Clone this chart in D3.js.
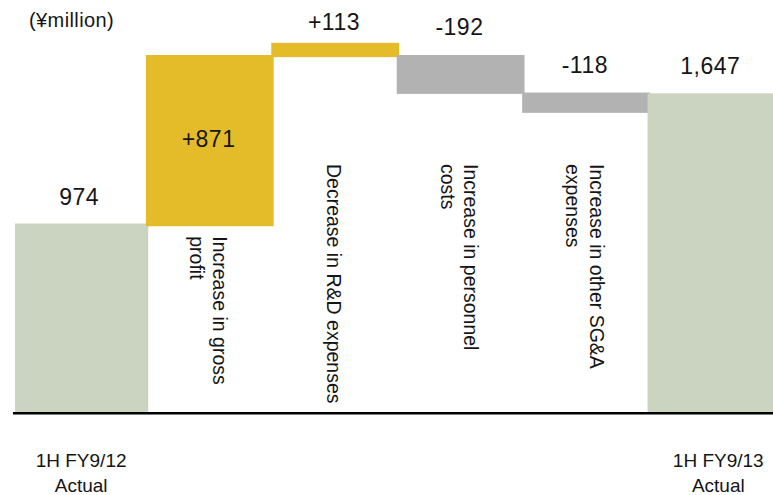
<!DOCTYPE html>
<html>
<head>
<meta charset="utf-8">
<script src="https://cdn.jsdelivr.net/npm/d3@7/dist/d3.min.js"></script>
<style>
  html, body { margin: 0; padding: 0; background: #fff; }
  svg { display: block; }
  text { font-family: "Liberation Sans", Arial, sans-serif; fill: #151515; }
</style>
</head>
<body>
<svg id="chart" width="773" height="495"></svg>
<script>
// ---- data ----
const categories = ["1H FY9/12 Actual", "Increase in gross profit", "Decrease in R&D expenses",
                    "Increase in personnel costs", "Increase in other SG&A expenses", "1H FY9/13 Actual"];
const categoryLines = [["1H FY9/12", "Actual"], ["Increase in gross", "profit"], ["Decrease in R&D expenses"],
                       ["Increase in personnel", "costs"], ["Increase in other SG&A", "expenses"], ["1H FY9/13", "Actual"]];
const values = [974, 871, 113, -192, -118, 1647];
const valueLabels = ["974", "+871", "+113", "-192", "-118", "1,647"];
// bar extents as drawn in the picture (¥million)
const barBase = [0, 960, 1834, 1644, 1546, 0];
const barTop  = [974, 1845, 1908, 1845, 1651, 1647];
const barKind = ["total", "up", "up", "down", "down", "total"];
const unitLabel = "(¥million)";

// ---- layout ----
const W = 773, H = 495;
const baseY = 412;
const colors = { total: "#CBD4C0", up: "#E4BC29", down: "#B2B2B2" };

const svg = d3.select("#chart");
const x = d3.scaleBand().domain(categories).range([20.4, 773]).padding(0);
const y = d3.scaleLinear().domain([0, 2000]).range([baseY, baseY - 2000 * 0.1935]);
const bw = x.bandwidth();

// bars
svg.append("g").selectAll("rect").data(categories).join("rect")
  .attr("x", (d, i) => x(d) - (i === 0 ? 5.4 : 0))
  .attr("width", (d, i) => bw + (i === 0 ? 7.8 : (i === categories.length - 1 ? 0 : 2.4)))
  .attr("y", (d, i) => y(barTop[i]))
  .attr("height", (d, i) => y(barBase[i]) - y(barTop[i]))
  .attr("fill", (d, i) => colors[barKind[i]]);

// axis baseline
svg.append("line")
  .attr("x1", 13).attr("x2", W)
  .attr("y1", baseY + 1.2).attr("y2", baseY + 1.2)
  .attr("stroke", "#000").attr("stroke-width", 2.5);

// value labels
svg.append("g").selectAll("text").data(categories).join("text")
  .attr("x", (d, i) => x(d) + bw / 2 - (i === 0 ? 4 : 0))
  .attr("y", (d, i) => {
    if (i === 1) return (y(barTop[i]) + y(barBase[i])) / 2 + 6;
    if (barKind[i] === "up") return y(barTop[i]) - 13;
    if (barKind[i] === "down") return y(barTop[i]) - 20;
    return y(barTop[i]) - 19;
  })
  .attr("text-anchor", "middle")
  .style("font-size", "23px")
  .style("letter-spacing", "0.5px")
  .text((d, i) => valueLabels[i]);

// unit label
svg.append("text")
  .attr("x", 29).attr("y", 27)
  .style("font-size", "20px")
  .style("letter-spacing", "0.4px")
  .text(unitLabel);

// rotated category labels (middle bars)
const lh = 23.5, fs = 19.5, capH = fs * 0.716;
categories.forEach((c, i) => {
  if (i === 0 || i === categories.length - 1) return;
  const lines = categoryLines[i];
  const n = lines.length;
  const cx = x(c) + bw / 2;
  const firstBase = cx + ((n - 1) * lh) / 2 - capH / 2;
  const top = Math.max(y(barBase[i]) + 10, 164);
  lines.forEach((ln, j) => {
    svg.append("text")
      .attr("transform", `translate(${firstBase - j * lh},${top}) rotate(90)`)
      .attr("text-anchor", "start")
      .style("font-size", fs + "px")
      .text(ln);
  });
});

// bottom category labels (totals)
[0, categories.length - 1].forEach(i => {
  const c = categories[i];
  const cx = x(c) + bw / 2 + (i === 0 ? -2 : 8);
  categoryLines[i].forEach((ln, j) => {
    svg.append("text")
      .attr("x", cx).attr("y", 467 + j * 25)
      .attr("text-anchor", "middle")
      .style("font-size", "19px")
      .text(ln);
  });
});
</script>
</body>
</html>
